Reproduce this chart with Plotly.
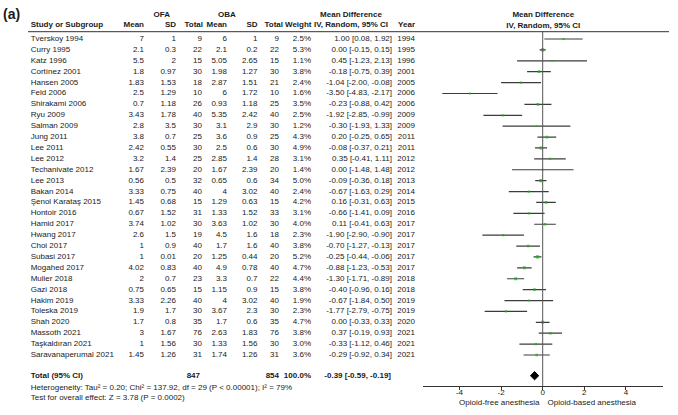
import plotly.graph_objects as go

W, H = 678, 415

studies = ["Tverskoy 1994", "Curry 1995", "Katz 1996", "Cortínez 2001", "Hansen 2005", "Feld 2006",
           "Shirakami 2006", "Ryu 2009", "Salman 2009", "Jung 2011", "Lee 2011", "Lee 2012",
           "Techanivate 2012", "Lee 2013", "Bakan 2014", "Şenol Karataş 2015", "Hontoir 2016",
           "Hamid 2017", "Hwang 2017", "Choi 2017", "Subasi 2017", "Mogahed 2017", "Mulier 2018",
           "Gazi 2018", "Hakim 2019", "Toleska 2019", "Shah 2020", "Massoth 2021",
           "Taşkaldıran 2021", "Saravanaperumal 2021"]
ofa_mean = [7, 2.1, 5.5, 1.8, 1.83, 2.5, 0.7, 3.43, 2.8, 3.8, 2.42, 3.2, 1.67, 0.56, 3.33, 1.45, 0.67,
            3.74, 2.6, 1, 1, 4.02, 2, 0.75, 3.33, 1.9, 1.7, 3, 1, 1.45]
ofa_sd = [1, 0.3, 2, 0.97, 1.53, 1.29, 1.18, 1.78, 3.5, 0.7, 0.55, 1.4, 2.39, 0.5, 0.75, 0.68, 1.52,
          1.02, 1.5, 0.9, 0.01, 0.83, 0.7, 0.65, 2.26, 1.7, 0.8, 1.67, 1.56, 1.26]
ofa_n = [9, 22, 15, 30, 18, 10, 26, 40, 30, 25, 30, 25, 20, 32, 40, 15, 31, 30, 19, 40, 20, 40, 23,
         15, 40, 30, 35, 76, 30, 31]
oba_mean = [6, 2.1, 5.05, 1.98, 2.87, 6, 0.93, 5.35, 3.1, 3.6, 2.5, 2.85, 1.67, 0.65, 4, 1.29, 1.33,
            3.63, 4.5, 1.7, 1.25, 4.9, 3.3, 1.15, 4, 3.67, 1.7, 2.63, 1.33, 1.74]
oba_sd = [1, 0.2, 2.65, 1.27, 1.51, 1.72, 1.18, 2.42, 2.9, 0.9, 0.6, 1.4, 2.39, 0.6, 3.02, 0.63, 1.52,
          1.02, 1.6, 1.6, 0.44, 0.78, 0.7, 0.9, 3.02, 2.3, 0.6, 1.83, 1.56, 1.26]
oba_n = [9, 22, 15, 30, 21, 10, 25, 40, 30, 25, 30, 28, 20, 34, 40, 15, 33, 30, 18, 40, 20, 40, 22,
         15, 40, 30, 35, 76, 30, 31]
weight = [2.5, 5.3, 1.1, 3.8, 2.4, 1.6, 3.5, 2.5, 1.2, 4.3, 4.9, 3.1, 1.4, 5.0, 2.4, 4.2, 3.1, 4.0,
          2.3, 3.8, 5.2, 4.7, 4.4, 3.8, 1.9, 2.3, 4.7, 3.8, 3.0, 3.6]
md = [1.00, 0.00, 0.45, -0.18, -1.04, -3.50, -0.23, -1.92, -0.30, 0.20, -0.08, 0.35, 0.00, -0.09,
      -0.67, 0.16, -0.66, 0.11, -1.90, -0.70, -0.25, -0.88, -1.30, -0.40, -0.67, -1.77, 0.00, 0.37,
      -0.33, -0.29]
ci_lo = [0.08, -0.15, -1.23, -0.75, -2.00, -4.83, -0.88, -2.85, -1.93, -0.25, -0.37, -0.41, -1.48,
         -0.36, -1.63, -0.31, -1.41, -0.41, -2.90, -1.27, -0.44, -1.23, -1.71, -0.96, -1.84, -2.79,
         -0.33, -0.19, -1.12, -0.92]
ci_hi = [1.92, 0.15, 2.13, 0.39, -0.08, -2.17, 0.42, -0.99, 1.33, 0.65, 0.21, 1.11, 1.48, 0.18, 0.29,
         0.63, 0.09, 0.63, -0.90, -0.13, -0.06, -0.53, -0.89, 0.16, 0.50, -0.75, 0.33, 0.93, 0.46,
         0.34]
years = [1994, 1995, 1996, 2001, 2005, 2006, 2006, 2009, 2009, 2011, 2011, 2012, 2012, 2013, 2014,
         2015, 2016, 2017, 2017, 2017, 2017, 2017, 2018, 2018, 2019, 2019, 2020, 2021, 2021, 2021]

total_ofa = 847
total_oba = 854
total_weight = 100.0
total_md, total_lo, total_hi = -0.39, -0.59, -0.19
heterogeneity = "Heterogeneity: Tau² = 0.20; Chi² = 137.92, df = 29 (P < 0.00001); I² = 79%"
overall = "Test for overall effect: Z = 3.78 (P = 0.0002)"
x_ticks = [-4, -2, 0, 2, 4]
left_label = "Opioid-free anesthesia"
right_label = "Opioid-based anesthesia"

# ---- layout geometry (pixels) ----
ROW0, ROWH = 39.0, 10.897
TOTAL_ROW = 30.9
AXIS_PX = 386.0
X0_PX, X1_PX = 422.7, 662.7
XR = 5.77
FONT = "Liberation Sans, Arial, sans-serif"
TXT = "#1a1a1a"
FS = 8


def px(x):
    return x / W


def py(y):
    return 1 - y / H


def row_px(i):
    return ROW0 + ROWH * i


fig = go.Figure()

POS = {"left": "middle right", "right": "middle left", "center": "middle center"}


def add_text(xs, ys, texts, anchor="left", bold=False, size=FS):
    fig.add_trace(go.Scatter(
        x=xs, y=ys, text=[f"<b>{t}</b>" if bold else t for t in texts], mode="text",
        textposition=POS[anchor], textfont=dict(family=FONT, size=size, color=TXT),
        xaxis="x2", yaxis="y2", hoverinfo="skip", showlegend=False, cliponaxis=False))


# Header
add_text([3], [15], ["(a)"], bold=True, size=14)
add_text([161.7, 227, 351, 543.3], [15, 15, 15, 15], ["OFA", "OBA", "Mean Difference", "Mean Difference"],
         anchor="center", bold=True)
hy = 24.7
add_text([351, 543.3], [hy, 26], ["IV, Random, 95% CI", "IV, Random, 95% CI"], anchor="center", bold=True)
add_text([30.7], [hy], ["Study or Subgroup"], bold=True)
add_text([144, 176, 203, 227, 257.5, 283, 311.5, 415], [hy] * 8,
         ["Mean", "SD", "Total", "Mean", "SD", "Total", "Weight", "Year"], anchor="right", bold=True)

# Rows
rows_y = [row_px(i) for i in range(len(studies))]
n = len(studies)
add_text([30.7] * n, rows_y, studies)
add_text([144] * n, rows_y, [f"{v:g}" for v in ofa_mean], anchor="right")
add_text([176] * n, rows_y, [f"{v:g}" for v in ofa_sd], anchor="right")
add_text([202] * n, rows_y, [f"{v}" for v in ofa_n], anchor="right")
add_text([227] * n, rows_y, [f"{v:g}" for v in oba_mean], anchor="right")
add_text([257.5] * n, rows_y, [f"{v:g}" for v in oba_sd], anchor="right")
add_text([279] * n, rows_y, [f"{v}" for v in oba_n], anchor="right")
add_text([311] * n, rows_y, [f"{v:.1f}%" for v in weight], anchor="right")
add_text([392] * n, rows_y, [f"{m:.2f} [{l:.2f}, {h:.2f}]" for m, l, h in zip(md, ci_lo, ci_hi)],
         anchor="right")
add_text([415] * n, rows_y, [f"{v}" for v in years], anchor="right")

# Total row
ty = row_px(TOTAL_ROW)
add_text([30.7], [ty], ["Total (95% CI)"], bold=True)
add_text([200, 279, 311, 391], [ty] * 4,
         [f"{total_ofa}", f"{total_oba}", f"{total_weight:.1f}%",
          f"{total_md:.2f} [{total_lo:.2f}, {total_hi:.2f}]"], anchor="right", bold=True)
add_text([30.7, 30.7], [388, 397.7], [heterogeneity, overall])

# Axis side labels
add_text([539.5], [403], [left_label], anchor="right")
add_text([547.5], [403], [right_label], anchor="left")

# CI lines
cx, cy = [], []
for i in range(n):
    cx += [ci_lo[i], ci_hi[i], None]
    cy += [i, i, None]
fig.add_trace(go.Scatter(x=cx, y=cy, mode="lines", line=dict(color="#3c3c3c", width=1.2),
                         hoverinfo="skip", showlegend=False))

# Point estimates (squares sized by weight)
fig.add_trace(go.Scatter(x=md, y=list(range(n)), mode="markers",
                         marker=dict(symbol="square", color="#12b012",
                                     size=[1.3 + 0.36 * w for w in weight], line=dict(width=0)),
                         showlegend=False))

# Pooled diamond
dh = 0.38
fig.add_trace(go.Scatter(x=[total_lo, total_md, total_hi, total_md, total_lo],
                         y=[TOTAL_ROW, TOTAL_ROW - dh, TOTAL_ROW, TOTAL_ROW + dh, TOTAL_ROW],
                         mode="lines", fill="toself", fillcolor="black",
                         line=dict(color="black", width=1), showlegend=False))

y_top = (0 - ROW0) / ROWH
y_bot = (AXIS_PX - ROW0) / ROWH

shapes = [
    dict(type="line", xref="paper", yref="paper", x0=px(28), x1=px(669), y0=py(31.7), y1=py(31.7),
         line=dict(color="#333333", width=1)),
    dict(type="line", xref="x", yref="y", x0=0, x1=0, y0=(31.7 - ROW0) / ROWH, y1=y_bot,
         line=dict(color="#555555", width=1)),
]

fig.update_layout(
    width=W, height=H, margin=dict(l=0, r=0, t=0, b=0),
    paper_bgcolor="white", plot_bgcolor="rgba(0,0,0,0)",
    shapes=shapes,
    xaxis=dict(domain=[px(X0_PX), px(X1_PX)], range=[-XR, XR], showgrid=False, zeroline=False,
               showline=True, linecolor="#333333", linewidth=1, ticks="outside", ticklen=3,
               tickcolor="#333333", tickvals=x_ticks, ticktext=[str(t) for t in x_ticks],
               tickfont=dict(family=FONT, size=FS, color=TXT), ticklabelstandoff=-5,
               fixedrange=True),
    yaxis=dict(domain=[py(AXIS_PX), 1], range=[y_bot, y_top], visible=False, fixedrange=True),
    xaxis2=dict(domain=[0, 1], range=[0, W], visible=False, fixedrange=True, anchor="y2"),
    yaxis2=dict(domain=[0, 1], range=[H, 0], visible=False, fixedrange=True, anchor="x2"),
    font=dict(family=FONT, size=FS, color=TXT),
)

fig.write_html("out.html", config={"displayModeBar": False},
               post_script="document.body.style.margin='0';document.body.style.overflow='hidden';")
